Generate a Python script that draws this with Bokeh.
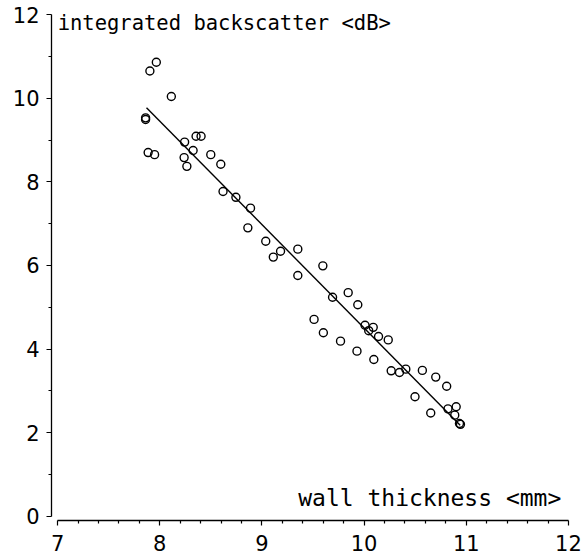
from bokeh.plotting import figure
from bokeh.models import Range1d, FixedTicker, Label
from bokeh.embed import file_html
from bokeh.resources import INLINE

# wall thickness <mm>
wall_mm = [7.966, 7.903, 8.113, 7.861, 7.861, 7.886, 7.949, 8.243, 8.355, 8.404,
           8.326, 8.238, 8.265, 8.499, 8.597, 8.619, 8.745, 8.888, 8.862, 9.037,
           9.182, 9.111, 9.351, 9.351, 9.596, 9.691, 9.844, 9.938, 9.510, 9.601,
           9.769, 9.930, 10.009, 10.089, 10.045, 10.141, 10.236, 10.095, 10.265, 10.346,
           10.408, 10.570, 10.701, 10.808, 10.498, 10.652, 10.821, 10.901, 10.887, 10.933,
           10.943]
# integrated backscatter <dB>
backscatter_db = [10.86, 10.65, 10.04, 9.53, 9.49, 8.70, 8.65, 8.95, 9.09, 9.09,
                  8.75, 8.58, 8.37, 8.65, 8.42, 7.77, 7.63, 7.37, 6.90, 6.58,
                  6.34, 6.20, 6.39, 5.76, 5.99, 5.24, 5.35, 5.06, 4.71, 4.39,
                  4.19, 3.95, 4.57, 4.52, 4.44, 4.30, 4.22, 3.75, 3.48, 3.44,
                  3.52, 3.49, 3.33, 3.11, 2.86, 2.47, 2.57, 2.62, 2.42, 2.22,
                  2.20]

# regression line end points
fit_x = [7.87, 10.94]
fit_y = [9.77, 2.18]

x_ticks = [7, 8, 9, 10, 11, 12]
x_minor = [7.2, 7.4, 7.6, 7.8, 8.2, 8.4, 8.6, 8.8, 9.2, 9.4, 9.6, 9.8,
           10.2, 10.4, 10.6, 10.8, 11.2, 11.4, 11.6, 11.8]
y_ticks = [0, 2, 4, 6, 8, 10, 12]
y_minor = [1, 3, 5, 7, 9, 11]

y_title = "integrated backscatter <dB>"
x_title = "wall thickness <mm>"

p = figure(width=583, height=558, output_backend="svg", toolbar_location=None,
           x_range=Range1d(6.94, 12.02), y_range=Range1d(-0.1, 12.05),
           min_border_left=51, min_border_right=13, min_border_top=12,
           min_border_bottom=38)
p.outline_line_color = None
p.xgrid.visible = False
p.ygrid.visible = False
p.background_fill_color = "white"
p.border_fill_color = "white"

for ax in (p.xaxis[0], p.yaxis[0]):
    ax.axis_line_color = "black"
    ax.axis_line_width = 1.3
    ax.major_tick_line_color = "black"
    ax.minor_tick_line_color = "black"
    ax.major_tick_line_width = 1.2
    ax.minor_tick_line_width = 1.2
    ax.major_tick_in = 0
    ax.minor_tick_in = 0
    ax.major_label_text_font = "DejaVu Sans"
    ax.major_label_text_font_size = "21px"
    ax.major_label_text_color = "black"

p.xaxis[0].ticker = FixedTicker(ticks=x_ticks, minor_ticks=x_minor)
p.xaxis[0].bounds = (7, 12)
p.xaxis[0].major_tick_out = 5
p.xaxis[0].minor_tick_out = 3
p.xaxis[0].major_label_standoff = 9

p.yaxis[0].ticker = FixedTicker(ticks=y_ticks, minor_ticks=y_minor)
p.yaxis[0].bounds = (0, 12)
p.yaxis[0].major_tick_out = 5
p.yaxis[0].minor_tick_out = 3
p.yaxis[0].major_label_standoff = 7

p.line(fit_x, fit_y, line_color="black", line_width=1.4)
p.scatter(wall_mm, backscatter_db, marker="circle", size=8,
          fill_color=None, line_color="black", line_width=1.4)

p.add_layout(Label(x=7.0, y=11.81, text=y_title, text_font="DejaVu Sans Mono",
                   text_font_size="20.5px", text_baseline="middle", text_align="left",
                   text_color="black"))
p.add_layout(Label(x=11.93, y=0.45, text=x_title, text_font="DejaVu Sans Mono",
                   text_font_size="23px", text_baseline="middle", text_align="right",
                   text_color="black"))

open("out.html", "w").write(file_html(p, INLINE))
